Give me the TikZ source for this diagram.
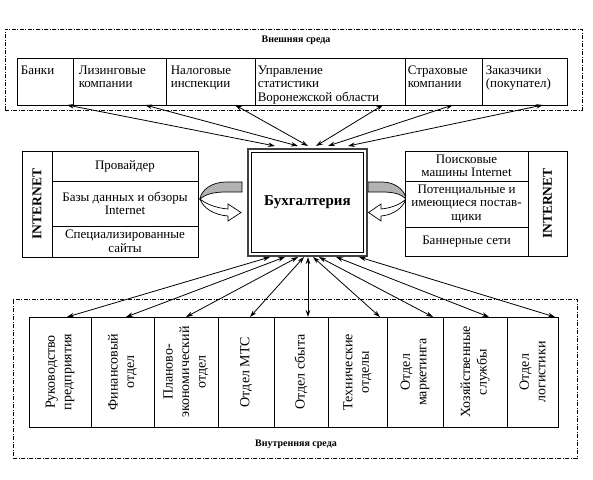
\documentclass[tikz,border=0pt]{standalone}
\usepackage{fontspec}
\setmainfont{Liberation Serif}
\usetikzlibrary{arrows.meta}
\begin{document}
\begin{tikzpicture}[x=1pt,y=-1pt,
  env/.style={draw, line width=0.9pt, dash pattern=on 4pt off 1.5pt on 1pt off 1.5pt, inner sep=0},
  cell/.style={draw, line width=0.8pt, inner sep=0, minimum width=#1},
  celltext/.style={font=\fontsize{13}{13.5}\selectfont, align=center, inner sep=0},
  toptext/.style={font=\fontsize{13}{13.5}\selectfont, align=left, inner sep=0, anchor=north west},
  vtext/.style={font=\fontsize{14}{16.5}\selectfont, align=center, inner sep=0, rotate=90},
  nettext/.style={font=\fontsize{13.5}{14}\selectfont\bfseries, inner sep=0, rotate=90},
  envlabel/.style={font=\fontsize{10}{12}\selectfont\bfseries, inner sep=0},
  link/.style={{Stealth[length=7pt,width=4.5pt]}-{Stealth[length=7pt,width=4.5pt]}, line width=0.8pt},
  backband/.style={draw, line width=0.7pt, fill=black!30},
  frontband/.style={draw, line width=0.7pt, fill=white}
]
\useasboundingbox (0,0) rectangle (593,479);

% ---------- curved arrows (drawn first, boxes on top) ----------
\draw[backband] (242,182) -- (226,182) .. controls (212,182) and (201,190) .. (200,199)
  .. controls (206,194) and (214,192) .. (226,192) -- (242,192) -- cycle;
\draw[frontband] (200,199) .. controls (203,208) and (214,215) .. (228,216) -- (228,221) -- (241,212.5)
  -- (228,204) -- (228,209) .. controls (216,208) and (206,204) .. (200,199) -- cycle;

\draw[backband] (368,182) -- (382,182) .. controls (395,182) and (405,190) .. (406,199)
  .. controls (401,194) and (394,192) .. (382,192) -- (368,192) -- cycle;
\draw[frontband] (406,199) .. controls (403,208) and (393,215) .. (381,216) -- (381,221) -- (368.5,212.5)
  -- (381,204) -- (381,209) .. controls (392,208) and (401,204) .. (406,199) -- cycle;

% ---------- external environment ----------
\node[env, minimum width=577pt, minimum height=81pt] (ext) at (293.5,69.5) {};
\node[envlabel] (extlbl) at (296,40) {Внешняя среда};

\node[cell=56pt, minimum height=47pt] (bank) at (45,81.5) {};
\node[cell=93pt, minimum height=47pt] (leas) at (119.5,81.5) {};
\node[cell=89pt, minimum height=47pt] (tax) at (210.5,81.5) {};
\node[cell=150pt, minimum height=47pt] (stat) at (330,81.5) {};
\node[cell=77pt, minimum height=47pt] (insur) at (443.5,81.5) {};
\node[cell=85pt, minimum height=47pt] (cust) at (524.5,81.5) {};

\node[toptext] (bankt) at ([xshift=4pt,yshift=-8pt]bank.north west) {Банки};
\node[toptext] (least) at ([xshift=6pt,yshift=-8pt]leas.north west) {Лизинговые\\компании};
\node[toptext] (taxt) at ([xshift=5pt,yshift=-8pt]tax.north west) {Налоговые\\инспекции};
\node[toptext] (statt) at ([xshift=3pt,yshift=-8pt]stat.north west) {Управление\\статистики\\Воронежской области};
\node[toptext] (insurt) at ([xshift=3pt,yshift=-8pt]insur.north west) {Страховые\\компании};
\node[toptext] (custt) at ([xshift=4pt,yshift=-8pt]cust.north west) {Заказчики\\(покупател)};

% ---------- central box ----------
\node[draw=black!75, line width=2pt, minimum width=119pt, minimum height=107pt, inner sep=0] (acc) at (307.5,202.5) {};
\node[draw, line width=0.8pt, minimum width=112pt, minimum height=100pt, inner sep=0,
      font=\fontsize{15}{17}\selectfont\bfseries] (accin) at (307.5,202.5) {Бухгалтерия};

% ---------- left INTERNET box ----------
\node[cell=30pt, minimum height=106pt, fill=white] (lnet) at (37,204) {};
\node[nettext] (lnett) at (lnet.center) {INTERNET};
\node[cell=146pt, minimum height=30pt, celltext, fill=white] (lprov) at (125,166) {Провайдер};
\node[cell=146pt, minimum height=45pt, celltext, fill=white] (ldb) at (125,203.5) {Базы данных и обзоры\\Internet};
\node[cell=146pt, minimum height=31pt, celltext, fill=white] (lspec) at (125,241.5) {Специализированные\\сайты};

% ---------- right INTERNET box ----------
\node[cell=39pt, minimum height=105pt, fill=white] (rnet) at (547.5,203.5) {};
\node[nettext] (rnett) at (rnet.center) {INTERNET};
\node[cell=123pt, minimum height=30pt, celltext, fill=white] (rsearch) at (466.5,166) {Поисковые\\машины Internet};
\node[cell=123pt, minimum height=46pt, celltext, fill=white] (rsup) at (466.5,204) {Потенциальные и\\имеющиеся постав-\\щики};
\node[cell=123pt, minimum height=29pt, celltext, fill=white] (rban) at (466.5,241.5) {Баннерные сети};

% ---------- internal environment ----------
\node[env, minimum width=564pt, minimum height=159pt] (int) at (295,378.5) {};
\node[envlabel] (intlbl) at (296,444) {Внутренняя среда};

\node[cell=62pt, minimum height=110pt] (ruk) at (60,372) {};
\node[cell=63pt, minimum height=110pt] (fin) at (122.5,372) {};
\node[cell=64pt, minimum height=110pt] (plan) at (186,372) {};
\node[cell=56pt, minimum height=110pt] (mts) at (246,372) {};
\node[cell=54pt, minimum height=110pt] (sbyt) at (301,372) {};
\node[cell=59pt, minimum height=110pt] (tech) at (357.5,372) {};
\node[cell=56pt, minimum height=110pt] (mark) at (415,372) {};
\node[cell=64pt, minimum height=110pt] (hoz) at (475,372) {};
\node[cell=51pt, minimum height=110pt] (logi) at (532.5,372) {};

\node[vtext] (rukt) at (ruk.center) {Руководство\\предприятия};
\node[vtext] (fint) at (fin.center) {Финансовый\\отдел};
\node[vtext] (plant) at (plan.center) {Планово-\\экономический\\отдел};
\node[vtext] (mtst) at (mts.center) {Отдел МТС};
\node[vtext] (sbytt) at (sbyt.center) {Отдел сбыта};
\node[vtext] (techt) at (tech.center) {Технические\\отделы};
\node[vtext] (markt) at (mark.center) {Отдел\\маркетинга};
\node[vtext] (hozt) at (hoz.center) {Хозяйственные\\службы};
\node[vtext] (logit) at (logi.center) {Отдел\\логистики};

% ---------- connector end points ----------
\coordinate (tb1) at (67,105);  \coordinate (tc1) at (275,146);
\coordinate (tb2) at (145,105); \coordinate (tc2) at (298,146);
\coordinate (tb3) at (235,105); \coordinate (tc3) at (308,146);
\coordinate (tb4) at (383,105); \coordinate (tc4) at (316,146);
\coordinate (tb5) at (453,105); \coordinate (tc5) at (328,146);
\coordinate (tb6) at (543,105); \coordinate (tc6) at (348,146);

\coordinate (bb1) at (67,317);  \coordinate (bc1) at (270,257);
\coordinate (bb2) at (126,317); \coordinate (bc2) at (285,257);
\coordinate (bb3) at (186,317); \coordinate (bc3) at (298,257);
\coordinate (bb4) at (250,317); \coordinate (bc4) at (304,257);
\coordinate (bb5) at (308,317); \coordinate (bc5) at (308,257);
\coordinate (bb6) at (380,317); \coordinate (bc6) at (313,257);
\coordinate (bb7) at (433,317); \coordinate (bc7) at (319,257);
\coordinate (bb8) at (489,317); \coordinate (bc8) at (336,257);
\coordinate (bb9) at (555,317); \coordinate (bc9) at (359,257);

\foreach \i in {1,...,6} { \draw[link] (tb\i) -- (tc\i); }
\foreach \i in {1,...,9} { \draw[link] (bc\i) -- (bb\i); }
\end{tikzpicture}
\end{document}
